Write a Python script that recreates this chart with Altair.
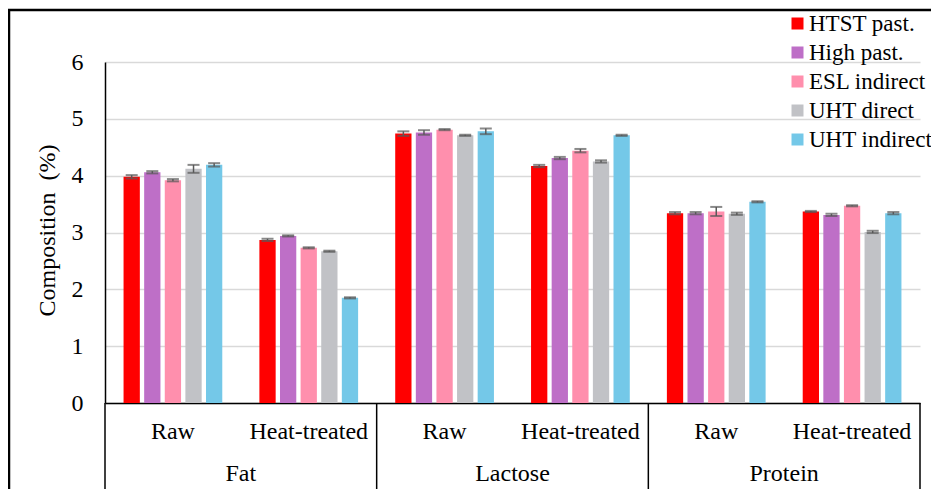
import altair as alt
import pandas as pd

FONT = "'Liberation Serif', 'Times New Roman', Times, serif"

nutrients = ["Fat", "Lactose", "Protein"]
treatments = ["Raw", "Heat-treated"]
methods = ["HTST past.", "High past.", "ESL indirect", "UHT direct", "UHT indirect"]
colors = ["#FF0000", "#BE6FC7", "#FF8FAD", "#C1C2C6", "#74C8E8"]

# mean values (%) per method, in legend order
fat_raw = [3.98, 4.06, 3.92, 4.12, 4.19]
fat_heat = [2.87, 2.94, 2.73, 2.67, 1.85]
lactose_raw = [4.74, 4.76, 4.81, 4.71, 4.78]
lactose_heat = [4.17, 4.31, 4.44, 4.25, 4.71]
protein_raw = [3.34, 3.34, 3.37, 3.33, 3.54]
protein_heat = [3.37, 3.31, 3.47, 3.01, 3.34]

# error bar half-widths
fat_raw_err = [0.03, 0.02, 0.02, 0.07, 0.03]
fat_heat_err = [0.02, 0.01, 0.01, 0.01, 0.01]
lactose_raw_err = [0.04, 0.04, 0.01, 0.01, 0.05]
lactose_heat_err = [0.02, 0.02, 0.03, 0.02, 0.01]
protein_raw_err = [0.02, 0.02, 0.08, 0.02, 0.01]
protein_heat_err = [0.01, 0.02, 0.01, 0.02, 0.02]

series = {
    ("Fat", "Raw"): (fat_raw, fat_raw_err),
    ("Fat", "Heat-treated"): (fat_heat, fat_heat_err),
    ("Lactose", "Raw"): (lactose_raw, lactose_raw_err),
    ("Lactose", "Heat-treated"): (lactose_heat, lactose_heat_err),
    ("Protein", "Raw"): (protein_raw, protein_raw_err),
    ("Protein", "Heat-treated"): (protein_heat, protein_heat_err),
}

keys = [f"{n}|{t}" for n in nutrients for t in treatments]

rows = []
for (n, t), (vals, errs) in series.items():
    for m, v, e in zip(methods, vals, errs):
        rows.append({"key": f"{n}|{t}", "method": m, "value": v,
                     "lo": v - e, "hi": v + e})
df = pd.DataFrame(rows)

groups_df = pd.DataFrame({"key": [f"{n}|Raw" for n in nutrients], "label": nutrients})
last_df = pd.DataFrame({"key": [keys[-1]]})
frame_df = pd.DataFrame({"a": [0]})

W, H = 815, 341

x_main = alt.X(
    "key:N",
    scale=alt.Scale(domain=keys, paddingInner=0, paddingOuter=0),
    title=None,
    axis=alt.Axis(
        labelExpr="split(datum.label, '|')[1]",
        labelAngle=0, ticks=False, tickSize=0, grid=False,
        domainColor="black", domainWidth=1.5,
        labelFont=FONT, labelFontSize=24, labelColor="black",
        labelBaseline="alphabetic", labelPadding=35,
    ),
)
x_off = alt.XOffset("method:N", sort=methods,
                    scale=alt.Scale(domain=methods, paddingInner=0.21, paddingOuter=0.9))

y_main = alt.Y(
    "value:Q",
    scale=alt.Scale(domain=[0, 6], nice=False),
    axis=alt.Axis(
        values=[0, 1, 2, 3, 4, 5, 6], format="d",
        grid=True, gridColor="#D9D9D9", gridWidth=1.5,
        ticks=False, tickSize=0,
        domainColor="black", domainWidth=1.5,
        labelFont=FONT, labelFontSize=24, labelColor="black", labelPadding=22,
        title="Composition\u00a0 (%)", titleFont=FONT, titleFontSize=24,
        titleFontWeight="normal", titleColor="black",
        titleX=-51, titleY=168, titleBaseline="alphabetic", titleAngle=270,
    ),
)

bars = alt.Chart(df).mark_bar().encode(
    x=x_main,
    xOffset=x_off,
    y=y_main,
    color=alt.Color(
        "method:N",
        scale=alt.Scale(domain=methods, range=colors),
        legend=alt.Legend(
            title=None, orient="none", legendX=681, legendY=-50,
            symbolType="square", symbolSize=144, symbolStrokeWidth=0,
            labelFont=FONT, labelFontSize=23, labelColor="black",
            labelOffset=0, rowPadding=5, padding=0, labelLimit=300,
        ),
    ),
)

err_color = "#595959"
stems = alt.Chart(df).mark_rule(color=err_color, strokeWidth=1.5).encode(
    x="key:N", xOffset=x_off, y="lo:Q", y2="hi:Q")
caps_hi = alt.Chart(df).mark_tick(color=err_color, size=12, thickness=2, orient="horizontal").encode(
    x="key:N", xOffset=x_off, y="hi:Q")
caps_lo = alt.Chart(df).mark_tick(color=err_color, size=12, thickness=2, orient="horizontal").encode(
    x="key:N", xOffset=x_off, y="lo:Q")

sep_left = alt.Chart(groups_df).mark_rule(color="black", strokeWidth=1.5).encode(
    x=alt.X("key:N", bandPosition=0), y=alt.value(H), y2=alt.value(427))
sep_right = alt.Chart(last_df).mark_rule(color="black", strokeWidth=1.5).encode(
    x=alt.X("key:N", bandPosition=1), y=alt.value(H), y2=alt.value(427))

group_labels = alt.Chart(groups_df).mark_text(
    font=FONT, fontSize=24, color="black", baseline="alphabetic", align="center"
).encode(x=alt.X("key:N", bandPosition=1), y=alt.value(419), text="label:N")

border_top = alt.Chart(frame_df).mark_rule(color="black", strokeWidth=2.5).encode(
    x=alt.value(-97), x2=alt.value(830), y=alt.value(-52))
border_left = alt.Chart(frame_df).mark_rule(color="black", strokeWidth=2.5).encode(
    x=alt.value(-96), y=alt.value(-53), y2=alt.value(440))

chart = alt.layer(
    bars, stems, caps_hi, caps_lo, sep_left, sep_right, group_labels,
    border_top, border_left,
).properties(
    width=W, height=H,
    autosize=alt.AutoSizeParams(type="none"),
    padding={"left": 97, "top": 54, "right": 11, "bottom": 86},
).configure(font=FONT).configure_view(stroke="transparent")

chart.save("out.html", embed_options={"renderer": "svg", "actions": False})
